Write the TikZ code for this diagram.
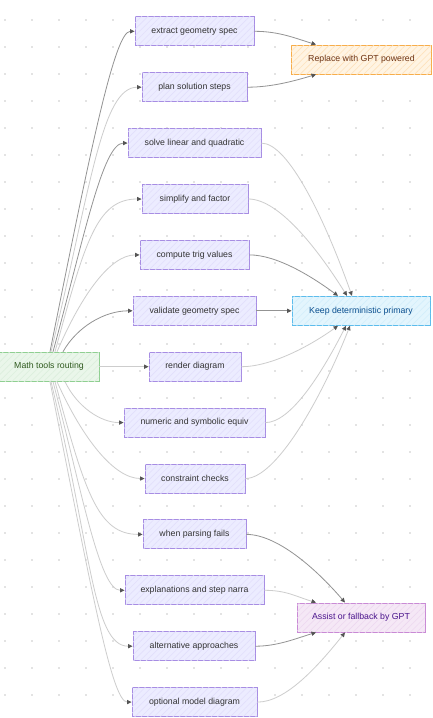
\documentclass[tikz,border=0pt]{standalone}
\usepackage{fontspec}
\setmainfont{Liberation Sans}
\usetikzlibrary{arrows.meta,calc,patterns.meta}
\definecolor{dotc}{HTML}{E3E3E3}
\definecolor{midF}{HTML}{ECECFF}
\definecolor{midH}{HTML}{E2DFFB}
\definecolor{midB}{HTML}{A78DE3}
\definecolor{midT}{HTML}{333333}
\definecolor{srcF}{HTML}{EAF6EA}
\definecolor{srcH}{HTML}{DCEFDD}
\definecolor{srcB}{HTML}{8FCF91}
\definecolor{srcT}{HTML}{2F5A1E}
\definecolor{repF}{HTML}{FFF4E3}
\definecolor{repH}{HTML}{FEE2BC}
\definecolor{repB}{HTML}{F7AD4A}
\definecolor{repT}{HTML}{6E3414}
\definecolor{kpF}{HTML}{E3F5FD}
\definecolor{kpH}{HTML}{D2EEFB}
\definecolor{kpB}{HTML}{5CBCEC}
\definecolor{kpT}{HTML}{0A4F8F}
\definecolor{asF}{HTML}{F5E8F6}
\definecolor{asH}{HTML}{EDD8F0}
\definecolor{asB}{HTML}{C98AD5}
\definecolor{asT}{HTML}{4A148C}
\definecolor{edgeD}{HTML}{939393}
\definecolor{edgeL}{HTML}{CDCDCD}
\definecolor{tipc}{HTML}{555555}
\tikzset{
  basebox/.style={line width=0.9pt, minimum height=29pt, inner sep=0pt,
    font=\fontsize{8.75}{10}\selectfont},
  hatch/.style={postaction={pattern={Lines[angle=45,distance=4.5pt,line width=0.6pt]}, pattern color=#1}},
  midbox/.style={basebox, draw=midB, fill=midF, text=midT, hatch=midH},
  srcbox/.style={basebox, draw=srcB, fill=srcF, text=srcT, hatch=srcH},
  repbox/.style={basebox, draw=repB, fill=repF, text=repT, hatch=repH},
  kpbox/.style={basebox, draw=kpB, fill=kpF, text=kpT, hatch=kpH},
  asbox/.style={basebox, draw=asB, fill=asF, text=asT, hatch=asH},
  dk/.style={draw=edgeD, line width=0.8pt, -{Triangle[length=4.5pt,width=4.2pt,color=tipc]}},
  lt/.style={draw=edgeL, line width=0.8pt, -{Triangle[length=4.5pt,width=4.2pt,color=tipc]}},
}
\begin{document}
\begin{tikzpicture}[x=1pt,y=-1pt]
\useasboundingbox (0,0) rectangle (432,718);
\fill[white] (0,0) rectangle (432,718);
% dot grid
\foreach \i in {0,...,15}{
  \foreach \j in {0,...,25}{
    \fill[dotc] ({4+27*\i},{19+27*\j}) rectangle +(2.2,2.2);
  }
}
% source
\node[srcbox, minimum width=100pt] (src) at (49,366.7) {Math tools routing};
% middle column
\node[midbox, minimum width=119pt] (m1) at (194.5,31.3) {extract geometry spec};
\node[midbox, minimum width=105pt] (m2) at (194.5,87.2) {plan solution steps};
\node[midbox, minimum width=133pt] (m3) at (194.5,143.1) {solve linear and quadratic};
\node[midbox, minimum width=106pt] (m4) at (195,199) {simplify and factor};
\node[midbox, minimum width=109pt] (m5) at (194.5,254.9) {compute trig values};
\node[midbox, minimum width=123pt] (m6) at (194.5,310.8) {validate geometry spec};
\node[midbox, minimum width=92pt] (m7) at (195,366.7) {render diagram};
\node[midbox, minimum width=141pt] (m8) at (194.5,422.6) {numeric and symbolic equiv};
\node[midbox, minimum width=100pt] (m9) at (195,478.5) {constraint checks};
\node[midbox, minimum width=103pt] (m10) at (194.5,534.4) {when parsing fails};
\node[midbox, minimum width=139pt] (m11) at (194.5,590.3) {explanations and step narra};
\node[midbox, minimum width=122pt] (m12) at (194,646.2) {alternative approaches};
\node[midbox, minimum width=125pt] (m13) at (194.5,702.1) {optional model diagram};
% right column
\node[repbox, minimum width=140pt] (rep) at (361,59.5) {};
\node[anchor=west, text=repT, font=\fontsize{8.75}{10}\selectfont, inner sep=0pt] (reptxt) at (308,59.5) {Replace with GPT powered};
\node[kpbox, minimum width=138pt] (kp) at (361,310.8) {Keep deterministic primary};
\node[asbox, minimum width=128pt] (as) at (361,617.5) {Assist or fallback by GPT};
% left edges
\draw[dk] ([xshift=1pt]src.north) .. controls +(40,-200) and +(-20,0) .. (m1.west);
\draw[lt] ([xshift=2pt]src.north) .. controls +(40,-165) and +(-40,0) .. (m2.west);
\draw[dk] ([xshift=4pt]src.north) .. controls +(30,-110) and +(-25,0) .. (m3.west);
\draw[lt] ([xshift=6pt]src.north) .. controls +(30,-110) and +(-45,0) .. (m4.west);
\draw[lt] ([xshift=8pt]src.north) .. controls +(25,-58) and +(-29,0) .. (m5.west);
\draw[dk] ([xshift=14pt]src.north) .. controls +(14,-25) and +(-28,0) .. (m6.west);
\draw[lt] (src.east) -- (m7.west);
\draw[lt] ([xshift=16pt]src.south) .. controls +(12,25) and +(-23,0) .. (m8.west);
\draw[lt] ([xshift=8pt]src.south) .. controls +(26,58) and +(-30,0) .. (m9.west);
\draw[lt] ([xshift=6pt]src.south) .. controls +(30,110) and +(-45,0) .. (m10.west);
\draw[lt] ([xshift=4pt]src.south) .. controls +(29,110) and +(-25,0) .. (m11.west);
\draw[lt] ([xshift=2pt]src.south) .. controls +(40,165) and +(-40,0) .. (m12.west);
\draw[lt] ([xshift=1pt]src.south) .. controls +(40,200) and +(-20,0) .. (m13.west);
% right edges
\draw[dk] (m1.east) .. controls +(25,0) and +(-20,-6) .. ([xshift=-45pt]rep.north);
\draw[dk] (m2.east) .. controls +(25,0) and +(-20,6) .. ([xshift=-45pt]rep.south);
\draw[lt] (m3.east) .. controls +(27,0) and +(-27,-76) .. ([xshift=-9pt]kp.north);
\draw[lt] (m4.east) .. controls +(30,0) and +(-30,-48) .. ([xshift=-14pt]kp.north);
\draw[dk] (m5.east) .. controls +(27,0) and +(-27,-20) .. ([xshift=-23pt]kp.north);
\draw[dk] (m6.east) -- (kp.west);
\draw[lt] (m7.east) .. controls +(29,0) and +(-29,21) .. ([xshift=-23pt]kp.south);
\draw[lt] (m8.east) .. controls +(25,0) and +(-25,49) .. ([xshift=-15pt]kp.south);
\draw[lt] (m9.east) .. controls +(30,0) and +(-30,76) .. ([xshift=-11pt]kp.south);
\draw[dk] (m10.east) .. controls +(30,0) and +(-30,-35) .. ([xshift=-16pt]as.north);
\draw[lt] (m11.east) .. controls +(22,0) and +(-20,-6) .. ([xshift=-45pt]as.north);
\draw[dk] (m12.east) .. controls +(22,0) and +(-20,6) .. ([xshift=-45pt]as.south);
\draw[lt] (m13.east) .. controls +(28,0) and +(-28,35) .. ([xshift=-16pt]as.south);
\end{tikzpicture}
\end{document}
